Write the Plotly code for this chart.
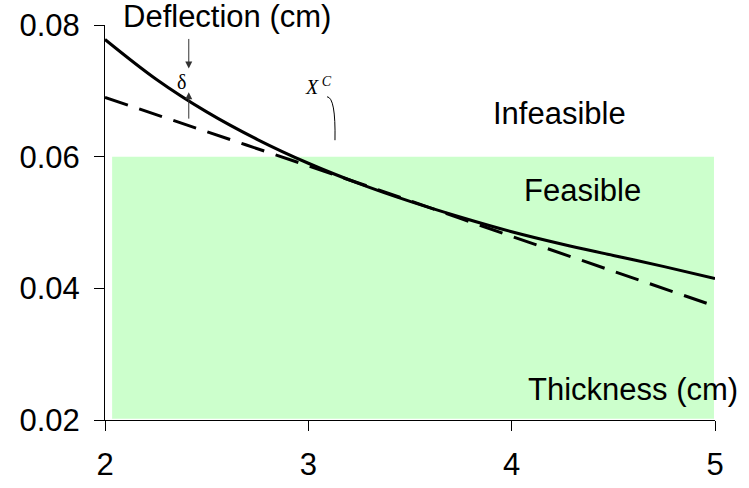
import plotly.graph_objects as go

# Data
thickness = [2.0, 2.25, 2.5, 2.75, 3.0, 3.25, 3.5, 3.75, 4.0, 4.25, 4.5, 4.75, 5.0]
deflection_exact = [0.0778, 0.0718, 0.0668, 0.0626, 0.0590, 0.0559, 0.0532,
                    0.0508, 0.0486, 0.0467, 0.0450, 0.0433, 0.0415]
thickness_approx = [2.0, 2.5, 3.0, 3.5, 4.0, 4.5, 5.0]
deflection_approx = [0.0690, 0.0638, 0.0586, 0.0533, 0.0479, 0.0426, 0.0373]
deflection_limit = 0.06
feasible_x = [2.035, 4.995]
x_ticks = [2, 3, 4, 5]
y_ticks = [0.02, 0.04, 0.06, 0.08]

FONT = "Arial, Liberation Sans, sans-serif"
SERIF = "Times New Roman, Liberation Serif, serif"
FS = 31

fig = go.Figure()

fig.add_shape(type="rect", xref="x", yref="y",
              x0=feasible_x[0], x1=feasible_x[1], y0=y_ticks[0] + 0.0002, y1=deflection_limit,
              fillcolor="#CCFFCC", line=dict(width=0), layer="below")

fig.add_trace(go.Scatter(x=thickness_approx, y=deflection_approx, mode="lines",
                         line=dict(color="black", width=3, dash="24px,12px"),
                         line_shape="spline", showlegend=False, hoverinfo="skip"))
fig.add_trace(go.Scatter(x=thickness, y=deflection_exact, mode="lines",
                         line=dict(color="black", width=3),
                         line_shape="spline", showlegend=False, hoverinfo="skip"))

ann = dict(showarrow=False, xref="x", yref="y")
fig.add_annotation(text="Deflection (cm)", x=2.598, y=1.022, xref="x", yref="paper",
                   showarrow=False, yanchor="middle",
                   font=dict(family=FONT, size=FS, color="black"))
fig.add_annotation(text="Infeasible", x=4.2375, y=0.0665,
                   font=dict(family=FONT, size=FS, color="black"), **ann)
fig.add_annotation(text="Feasible", x=4.346, y=0.0549,
                   font=dict(family=FONT, size=FS, color="black"), **ann)
fig.add_annotation(text="Thickness (cm)", x=4.599, y=0.02463,
                   font=dict(family=FONT, size=FS, color="black"), **ann)
fig.add_annotation(text="δ", x=2.377, y=0.0714,
                   font=dict(family=SERIF, size=20, color="black"), **ann)
fig.add_annotation(text="<i>X</i><sup> <i>C</i></sup>", x=3.048, y=0.0708,
                   font=dict(family=SERIF, size=20, color="black"), **ann)

# delta arrows
fig.add_annotation(x=2.412, y=0.0734, ax=0, ay=-31, xref="x", yref="y",
                   text="", showarrow=True, arrowhead=2, arrowsize=1.4,
                   arrowwidth=1, arrowcolor="#333333")
fig.add_annotation(x=2.412, y=0.0698, ax=0, ay=28, xref="x", yref="y",
                   text="", showarrow=True, arrowhead=2, arrowsize=1.4,
                   arrowwidth=1, arrowcolor="#333333")

# leader for X^C
fig.add_shape(type="path", xref="x", yref="y",
              path="M 3.092,0.0691 Q 3.135,0.0690 3.131,0.0625",
              line=dict(color="black", width=1))

fig.update_xaxes(range=[2, 5], tickvals=x_ticks, ticktext=[str(v) for v in x_ticks],
                 showgrid=False, zeroline=False, showline=True, linecolor="black",
                 linewidth=1, ticks="outside", ticklen=10, tickcolor="black",
                 tickfont=dict(family=FONT, size=FS, color="black"),
                 ticklabelstandoff=7, automargin=False)
fig.update_yaxes(range=[0.02, 0.08], tickvals=y_ticks,
                 ticktext=["%.2f" % v for v in y_ticks],
                 showgrid=False, zeroline=False, showline=True, linecolor="black",
                 linewidth=1, ticks="outside", ticklen=10, tickcolor="black",
                 tickfont=dict(family=FONT, size=FS, color="black"),
                 ticklabelstandoff=8, automargin=False, ticklabeloverflow="allow")

fig.update_layout(width=749, height=488, plot_bgcolor="white", paper_bgcolor="white",
                  margin=dict(l=105, r=34, t=25, b=68), showlegend=False)

fig.write_html("out.html", config={"displayModeBar": False},
               post_script="document.body.style.margin='0';document.body.style.padding='0';")
